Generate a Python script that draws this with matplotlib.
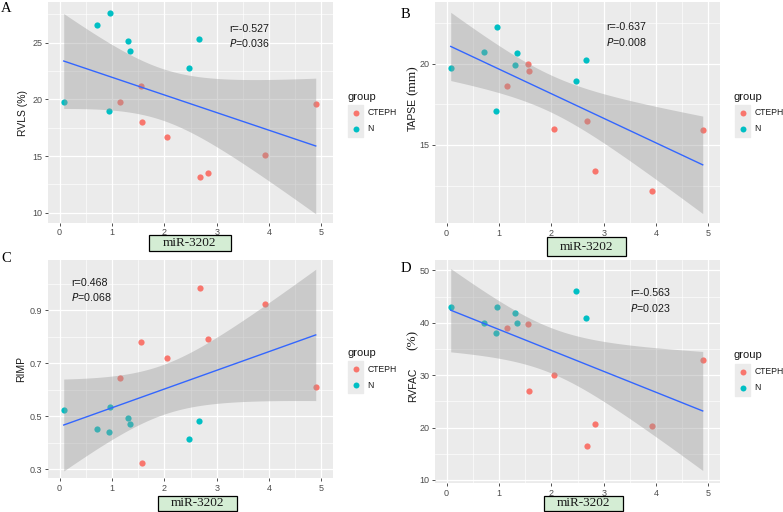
import numpy as np
import matplotlib
matplotlib.use("Agg")
import matplotlib.pyplot as plt
import matplotlib.ticker as ticker
from matplotlib.patches import Rectangle
from matplotlib.lines import Line2D

plt.rcParams["font.family"] = ["Liberation Sans", "DejaVu Sans"]

# miR-3202 expression (shared x across panels)
x_n = [0.08, 0.72, 0.96, 0.95, 1.31, 1.34, 2.48, 2.67]
x_c = [1.15, 1.56, 1.57, 2.06, 2.69, 2.84, 3.92, 4.89]

# panel A: RVLS (%)
rvls_n = [19.8, 26.56, 27.65, 19.0, 25.15, 24.3, 22.8, 25.3]
rvls_c = [19.8, 21.2, 18.0, 16.7, 13.2, 13.5, 15.1, 19.6]
# panel B: TAPSE (mm)
tapse_n = [19.73, 20.72, 22.26, 17.12, 19.94, 20.64, 18.95, 20.25]
tapse_c = [18.62, 19.96, 19.53, 16.0, 16.5, 13.4, 12.2, 15.93]
# panel C: RIMP
rimp_n = [0.522, 0.451, 0.533, 0.44, 0.492, 0.471, 0.413, 0.481]
rimp_c = [0.643, 0.781, 0.321, 0.721, 0.983, 0.792, 0.923, 0.611]
# panel D: RVFAC (%)
rvfac_n = [43.06, 39.94, 43.06, 38.0, 41.97, 39.94, 45.99, 40.96]
rvfac_c = [38.92, 39.68, 26.94, 30.0, 16.56, 20.76, 20.25, 32.87]

stats = {"A": ("r=-0.527", "0.036"), "B": ("r=-0.637", "0.008"),
         "C": ("r=0.468", "0.068"), "D": ("r=-0.563", "0.023")}

RED = "#F8766D"
CYAN = "#00BFC4"
BG = "#EBEBEB"
INK = "#1a1a1a"
T14 = 2.1448  # t(0.975, df=14)
serif = "Liberation Serif"

W, H = 783, 512
fig = plt.figure(figsize=(W / 100, H / 100), dpi=100)


def px_axes(l, t, r, b):
    return fig.add_axes([l / W, 1 - b / H, (r - l) / W, (b - t) / H])


def panel(ax, yn, yc, ylim, yticks, yminor, ann):
    ax.set_facecolor(BG)
    for s in ax.spines.values():
        s.set_visible(False)
    ax.set_xlim(-0.22, 5.22)
    ax.set_ylim(*ylim)
    ax.set_xticks([0, 1, 2, 3, 4, 5])
    ax.set_xticks([0.5, 1.5, 2.5, 3.5, 4.5], minor=True)
    ax.set_yticks(yticks)
    ax.set_yticks(yminor, minor=True)
    ax.grid(True, which="major", color="white", lw=0.9)
    ax.grid(True, which="minor", color="white", lw=0.45)
    ax.set_axisbelow(True)
    ax.tick_params(which="major", length=2.5, width=0.6, color="#333333",
                   labelsize=6.5, labelcolor="#4D4D4D", pad=1.5)
    ax.tick_params(which="minor", length=0)

    ax.scatter(x_n, yn, s=20, color=CYAN, zorder=2, linewidths=0)
    ax.scatter(x_c, yc, s=20, color=RED, zorder=2, linewidths=0)

    # linear fit with 95% confidence band (geom_smooth lm)
    x = np.array(x_n + x_c)
    y = np.array(yn + yc)
    n = len(x)
    b1, b0 = np.polyfit(x, y, 1)
    res = y - (b0 + b1 * x)
    s = np.sqrt(np.sum(res ** 2) / (n - 2))
    sxx = np.sum((x - x.mean()) ** 2)
    xs = np.linspace(x.min(), x.max(), 80)
    fit = b0 + b1 * xs
    se = s * np.sqrt(1 / n + (xs - x.mean()) ** 2 / sxx)
    ax.fill_between(xs, fit - T14 * se, fit + T14 * se, color="#999999",
                    alpha=0.4, lw=0, zorder=3)
    ax.plot(xs, fit, color="#3366FF", lw=1.0, zorder=4)

    (r_txt, p_txt), ax_x, y1, y2 = ann
    ax.text(ax_x, y1, r_txt, fontsize=7.7, ha="left", va="center",
            transform=ax.transAxes, color=INK)
    ax.text(ax_x, y2, r"$P$=" + p_txt, fontsize=7.7, ha="left",
            va="center", transform=ax.transAxes, color=INK)


def legend(ax):
    pos = ax.get_position()
    x0 = pos.x1 * W + 14
    yc = (1 - (pos.y0 + pos.y1) / 2) * H
    fig.text(x0 / W, 1 - (yc - 16) / H, "group", fontsize=8, ha="left",
             va="center", color=INK)
    for i, (lab, col) in enumerate([("CTEPH", RED), ("N", CYAN)]):
        yy = yc + i * 16
        fig.patches.append(Rectangle(((x0 + 1) / W, 1 - (yy + 8) / H), 15 / W, 16 / H,
                                     transform=fig.transFigure, color=BG,
                                     zorder=0))
        fig.lines.append(Line2D([(x0 + 8.5) / W], [1 - yy / H], marker="o", ms=4.3,
                                color=col, mec="none", transform=fig.transFigure))
        fig.text((x0 + 20.5) / W, 1 - yy / H, lab, fontsize=6.2, ha="left",
                 va="center", color=INK)


def xbox(l, t, r, b):
    fig.patches.append(Rectangle((l / W, 1 - b / H), (r - l) / W, (b - t) / H,
                                 transform=fig.transFigure, fc="#D4EDD4",
                                 ec="black", lw=0.9, zorder=5))
    fig.text((l + r) / 2 / W, 1 - (t + b) / 2 / H, "miR-3202", fontsize=9.5,
             family=serif, ha="center", va="center", color=INK, zorder=6)


def split_ylabel(ax, word, unit, yw, yu):
    ax.text(-0.077, yw, word, rotation=90, fontsize=7.5, ha="center", va="center",
            transform=ax.transAxes, color=INK)
    ax.text(-0.077, yu, unit, rotation=90, fontsize=9.5, family=serif,
            ha="center", va="center", transform=ax.transAxes, color=INK)


# A
axA = px_axes(48, 2, 333, 223)
panel(axA, rvls_n, rvls_c, (9.1, 28.6), [10, 15, 20, 25], [12.5, 17.5, 22.5, 27.5],
      (stats["A"], 0.636, 0.878, 0.815))
axA.tick_params(axis="x", pad=1.0)
axA.set_ylabel("RVLS (%)", fontsize=7.5, color=INK, labelpad=3)
legend(axA)
fig.text(1 / W, 1 - 8 / H, "A", fontsize=10.5, family=serif, va="center")
xbox(149, 235, 231, 251)

# B
axB = px_axes(435, 2, 720, 223)
panel(axB, tapse_n, tapse_c, (10.2, 23.8), [15, 20], [12.5, 17.5, 22.5],
      (stats["B"], 0.60, 0.885, 0.82))
split_ylabel(axB, "TAPSE", "(mm)", 0.493, 0.645)
legend(axB)
fig.text(401 / W, 1 - 14 / H, "B", fontsize=10.5, family=serif, va="center")
xbox(547, 237, 626, 256)

# C
axC = px_axes(48, 260, 333, 478)
panel(axC, rimp_n, rimp_c, (0.266, 1.09), [0.3, 0.5, 0.7, 0.9], [0.4, 0.6, 0.8, 1.0],
      (stats["C"], 0.08, 0.895, 0.83))
axC.yaxis.set_major_formatter(ticker.FormatStrFormatter("%.1f"))
axC.set_ylabel("RIMP", fontsize=7.5, color=INK, labelpad=3)
legend(axC)
fig.text(1 / W, 1 - 259 / H, "C", fontsize=10.5, family=serif, va="center")
xbox(158, 496, 237, 511)

# D
axD = px_axes(435, 260, 720, 483)
panel(axD, rvfac_n, rvfac_c, (9.4, 52.0), [10, 20, 30, 40, 50], [15, 25, 35, 45],
      (stats["D"], 0.685, 0.85, 0.785))
split_ylabel(axD, "RVFAC", "(%)", 0.44, 0.64)
legend(axD)
fig.text(401 / W, 1 - 268 / H, "D", fontsize=10.5, family=serif, va="center")
xbox(544, 496, 623, 511)

fig.savefig("out.png", dpi=100, facecolor="white")
